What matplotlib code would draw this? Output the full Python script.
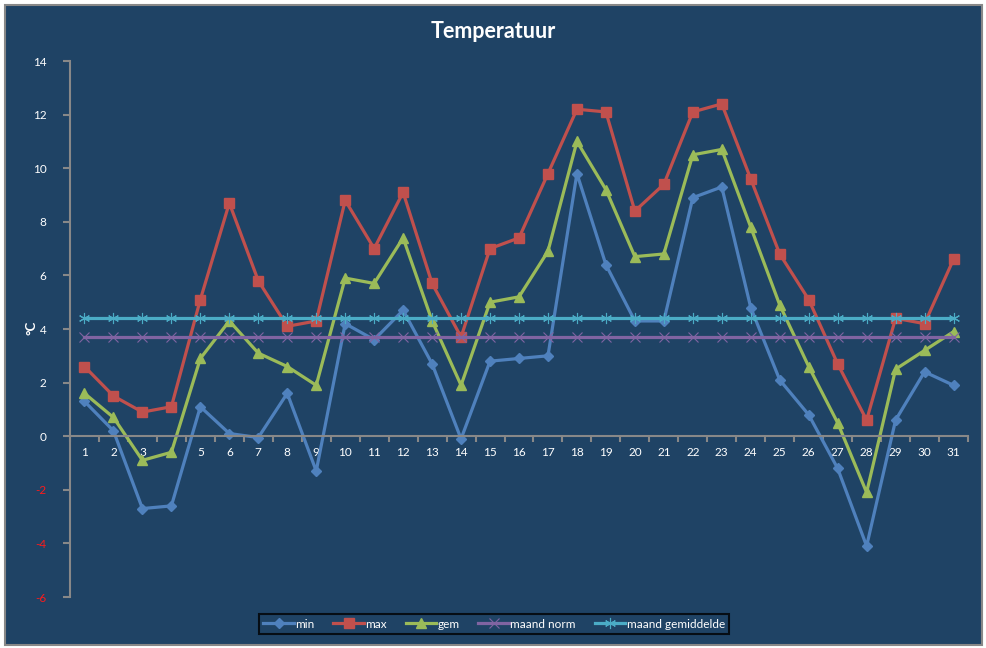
import numpy as np
import matplotlib
matplotlib.use('Agg')
import matplotlib.pyplot as plt
from matplotlib.patches import Rectangle

days = list(range(1, 32))
t_min = [1.3, 0.2, -2.7, -2.6, 1.1, 0.1, -0.05, 1.6, -1.3, 4.2, 3.6, 4.7, 2.7, -0.1, 2.8, 2.9,
         3.0, 9.8, 6.4, 4.3, 4.3, 8.9, 9.3, 4.8, 2.1, 0.8, -1.2, -4.1, 0.6, 2.4, 1.9]
t_max = [2.6, 1.5, 0.9, 1.1, 5.1, 8.7, 5.8, 4.1, 4.3, 8.8, 7.0, 9.1, 5.7, 3.7, 7.0, 7.4,
         9.8, 12.2, 12.1, 8.4, 9.4, 12.1, 12.4, 9.6, 6.8, 5.1, 2.7, 0.6, 4.4, 4.2, 6.6]
t_gem = [1.6, 0.7, -0.9, -0.6, 2.9, 4.3, 3.1, 2.6, 1.9, 5.9, 5.7, 7.4, 4.3, 1.9, 5.0, 5.2,
         6.9, 11.0, 9.2, 6.7, 6.8, 10.5, 10.7, 7.8, 4.9, 2.6, 0.5, -2.1, 2.5, 3.2, 3.9]
maand_norm = [3.7] * 31
maand_gem = [4.4] * 31
y_ticks = list(range(-6, 15, 2))

bg = '#1f4365'
plt.rcParams['font.family'] = ['Lato', 'DejaVu Sans']

fig = plt.figure(figsize=(9.87, 6.48), dpi=100)
fig.patch.set_facecolor('white')
fig.patches.append(Rectangle((5 / 987, 3 / 648), 977 / 987, 640 / 648, transform=fig.transFigure,
                             facecolor=bg, edgecolor='#888888', linewidth=1.5, zorder=-1))

ax = fig.add_axes([70 / 987, 1 - 597 / 648, 898 / 987, 536 / 648])
ax.set_facecolor('none')

lw = 2.3
ax.plot(days, t_min, color='#4f81bd', lw=lw, marker='D', ms=5, label='min')
ax.plot(days, t_max, color='#c0504d', lw=lw, marker='s', ms=7, label='max')
ax.plot(days, t_gem, color='#9bbb59', lw=lw, marker='^', ms=7, label='gem')
ax.plot(days, maand_norm, color='#8064a2', lw=lw, marker='x', ms=7, mew=0.8, label='maand norm')
ax.plot(days, maand_gem, color='#4bacc6', lw=lw, marker=(6, 2, 0), ms=8, mew=0.8,
        label='maand gemiddelde')

ax.set_xlim(0.5, 31.5)
ax.set_ylim(-6, 14)
ax.set_yticks(y_ticks)
ax.set_yticklabels([str(v) for v in y_ticks])

for s in ['top', 'right']:
    ax.spines[s].set_visible(False)
ax.spines['left'].set_color('#888888')
ax.spines['left'].set_linewidth(1.5)
ax.spines['bottom'].set_position(('data', 0))
ax.spines['bottom'].set_color('#888888')
ax.spines['bottom'].set_linewidth(1.5)

ax.tick_params(axis='y', colors='#888888', length=5, width=1.5, labelsize=8.5, labelcolor='white', pad=12)
for v, lab in zip(y_ticks, ax.get_yticklabels()):
    if v < 0:
        lab.set_color('#ff1a1a')

ax.set_xticks(np.arange(0.5, 31.6, 1))
ax.set_xticklabels([])
ax.tick_params(axis='x', which='major', colors='#888888', length=4, width=1.5)
ax.set_xticks(days, minor=True)
ax.set_xticklabels([str(d) for d in days], minor=True)
ax.tick_params(axis='x', which='minor', length=0, labelsize=8.5, labelcolor='white', pad=8)

fig.text(32 / 987, 1 - 328 / 648, '°C', rotation=90, ha='center', va='center', color='white',
         fontsize=9.5, fontweight='bold')
fig.text(0.5, 1 - 31 / 648, 'Temperatuur', ha='center', va='center', color='white',
         fontsize=15.5, fontweight='bold')

leg = ax.legend(loc='center', bbox_to_anchor=(494 / 987, 1 - 624 / 648), bbox_transform=fig.transFigure,
                ncol=5, frameon=True, fontsize=8.5, handlelength=2.6, handletextpad=0.1,
                columnspacing=1.6, borderpad=0.35, fancybox=False)
leg.get_frame().set_facecolor(bg)
leg.get_frame().set_edgecolor('black')
leg.get_frame().set_linewidth(1.5)
for t in leg.get_texts():
    t.set_color('white')

fig.savefig('out.png', dpi=100, facecolor=fig.get_facecolor())
